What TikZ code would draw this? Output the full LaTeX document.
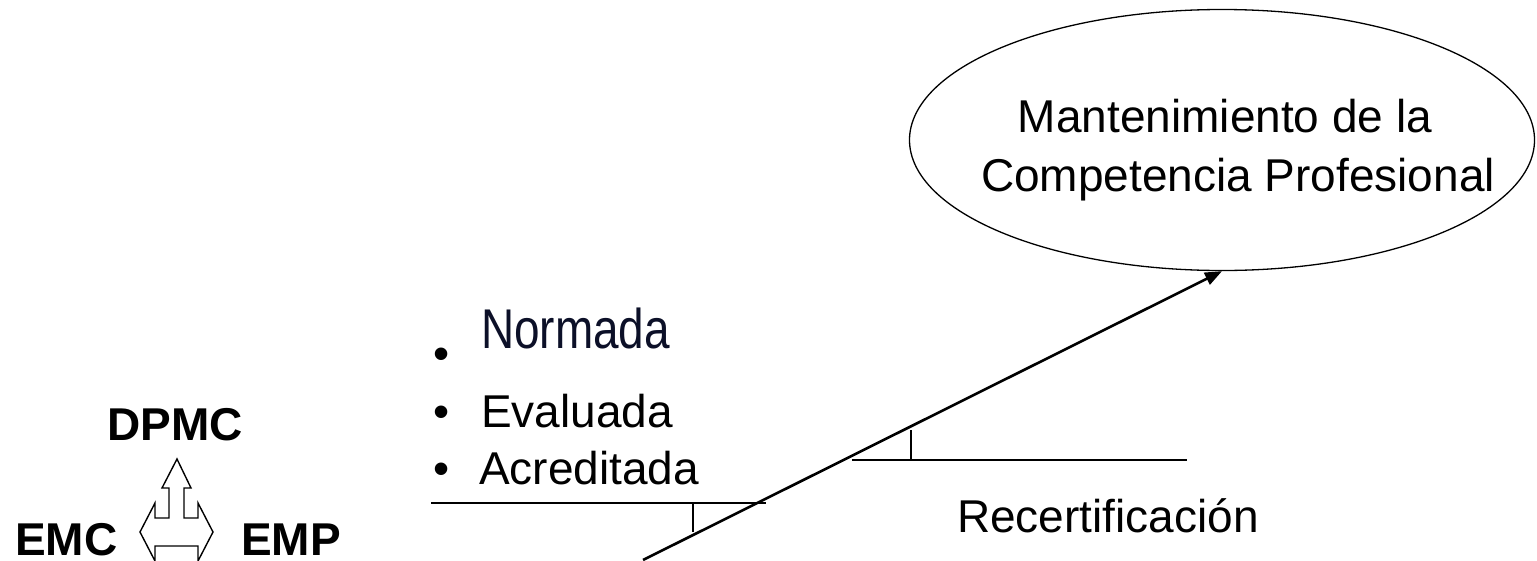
\documentclass[tikz,border=0pt]{standalone}
\usepackage{fontspec}
\setmainfont{Liberation Sans}
\newfontfamily\narrowfont[FakeStretch=0.82]{Liberation Sans}
\usetikzlibrary{shapes.geometric,arrows.meta}
\definecolor{navy}{RGB}{12,16,40}
\begin{document}
\begin{tikzpicture}[x=1pt,y=-1pt,
  txt/.style={inner sep=0pt, font=\fontsize{46}{55}\selectfont},
  btxt/.style={inner sep=0pt, font=\fontsize{46}{55}\selectfont\bfseries},
  ntxt/.style={inner sep=0pt, text=navy, font=\fontsize{56}{66}\selectfont\narrowfont},
  rule/.style={line width=1.8pt},
  mainarrow/.style={line width=2.6pt, -{Triangle[length=17pt,width=13pt]}},
  blockarrow/.style={line width=1.4pt, fill=white}]
\useasboundingbox (0,0) rectangle (1537,560);

% goal ellipse
\node[draw, ellipse, line width=1.3pt, minimum width=625pt, minimum height=261pt, inner sep=0pt] (goal) at (1222,140) {};
\node[txt, anchor=base] (g1) at (1225,132) {Mantenimiento de la};
\node[txt, anchor=base] (g2) at (1238,191) {Competencia Profesional};

% main arrow
\coordinate (s) at (643,560);
\draw[mainarrow] (s) -- (goal.south);

% horizontal rules with ticks
\coordinate (h1a) at (431,503);
\coordinate (h1b) at (766,503);
\coordinate (t1a) at (693,503);
\coordinate (t1b) at (693,532);
\draw[rule] (h1a) -- (h1b);
\draw[rule] (t1a) -- (t1b);
\coordinate (h2a) at (852,460);
\coordinate (h2b) at (1187,460);
\coordinate (t2a) at (911,460);
\coordinate (t2b) at (911,430);
\draw[rule] (h2a) -- (h2b);
\draw[rule] (t2a) -- (t2b);

% bullet list
\node[txt, anchor=base] (b1) at (442,369) {•};
\node[ntxt, anchor=base west] (l1) at (481,348) {Normada};
\node[txt, anchor=base] (b2) at (442,427) {•};
\node[txt, anchor=base west] (l2) at (481,427) {Evaluada};
\node[txt, anchor=base] (b3) at (442,484) {•};
\node[txt, anchor=base west] (l3) at (479,484) {Acreditada};

% recertification label
\node[txt, anchor=base west] (rc) at (957,532) {Recertificación};

% left group
\node[btxt, anchor=base west] (dpmc) at (107,440) {DPMC};
\node[btxt, anchor=base west] (emc) at (15,555) {EMC};
\node[btxt, anchor=base west] (emp) at (241,555) {EMP};

\draw[blockarrow] (177,459) -- (191,488) -- (184,488) -- (184,518) -- (198,518) -- (198,503)
  -- (213,532) -- (198,561) -- (198,546) -- (155,546) -- (155,561) -- (140,532)
  -- (155,503) -- (155,518) -- (169,518) -- (169,488) -- (162,488) -- cycle;
\end{tikzpicture}
\end{document}
